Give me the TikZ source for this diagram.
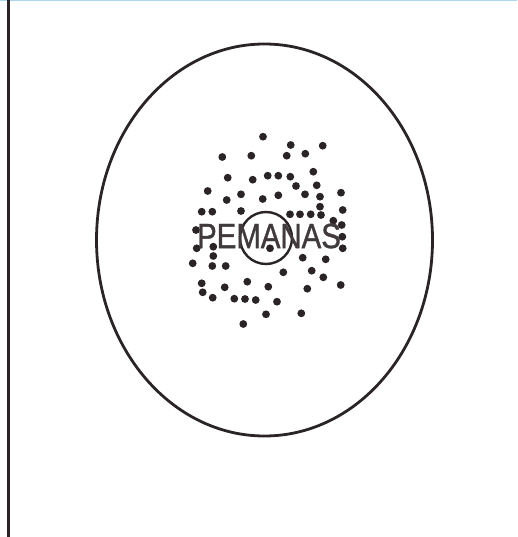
\documentclass[tikz,border=0pt]{standalone}
\usepackage{fontspec}
\setmainfont{Liberation Sans}
\newfontfamily\heavyfont[FakeBold=1.2]{Liberation Sans}
\usetikzlibrary{positioning,shapes.geometric}
\definecolor{inkdark}{RGB}{43,36,38}
\definecolor{edgeblue}{RGB}{170,215,240}
\tikzset{
  outline/.style={draw=inkdark, line width=2.8pt},
  dotmark/.style={fill=inkdark, draw=none},
  label/.style={font=\heavyfont\fontsize{35}{35}\selectfont, text=inkdark!90, inner sep=0pt, xscale=0.84}
}

\begin{document}
\begin{tikzpicture}[x=1pt, y=-1pt]
  \useasboundingbox (0,0) rectangle (517,537);
  \draw[edgeblue, line width=1.4pt] (0,0.7) -- (517,0.7);
  \draw[inkdark, line width=3.2pt] (8.5,0) -- (8.5,537);
  \node[outline, ellipse, minimum width=336pt, minimum height=392pt] (heater) at (264.5,240) {};
  % scattered dots
  \foreach \px/\py in {263/136.7, 290.7/145, 322.7/145.7, 222.3/157, 251.3/155.7, 286.7/155.7,
      305.3/153.7, 313.3/171.7, 227.7/177.7, 252.7/179.7, 267.7/175.7, 278.3/175.7,
      290.3/176.7, 296/186, 316.7/185.3, 207.7/191, 226.7/200, 241/194.3, 262.7/199,
      278.3/195.3, 305/194.3, 320/196.7, 341/192.7, 320/206.7, 342.7/210, 201.7/211.7,
      212.3/211.7, 241/211, 290/214.3, 300/214.3, 310.7/214.3, 321/215, 333.3/220.7,
      341.7/225, 342.3/236.7, 342.7/248.3, 196/230, 196.7/248.3, 213.3/246.7, 213.3/256,
      192.7/263.3, 212.3/266, 225.7/266, 270/248.3, 302.7/257.7, 325.7/259.3, 283.3/272.3,
      311.7/270.7, 323.3/277.3, 201.7/283.3, 224.7/287.3, 247.3/281.7, 268.3/286.7,
      307.3/288.7, 340.7/285, 202.7/292.3, 212.7/297.7, 234.3/298.7, 245/299, 255.7/300,
      277/301.7, 266/314.3, 301.3/313.3, 243.3/324}
    \fill[dotmark] (\px,\py) circle (3.9pt);
  \node[draw=inkdark, line width=2.4pt, circle, minimum size=52pt] (core) at (266,238) {};
  \node[label] (name) at (269,236) {PEMANAS};
\end{tikzpicture}
\end{document}
